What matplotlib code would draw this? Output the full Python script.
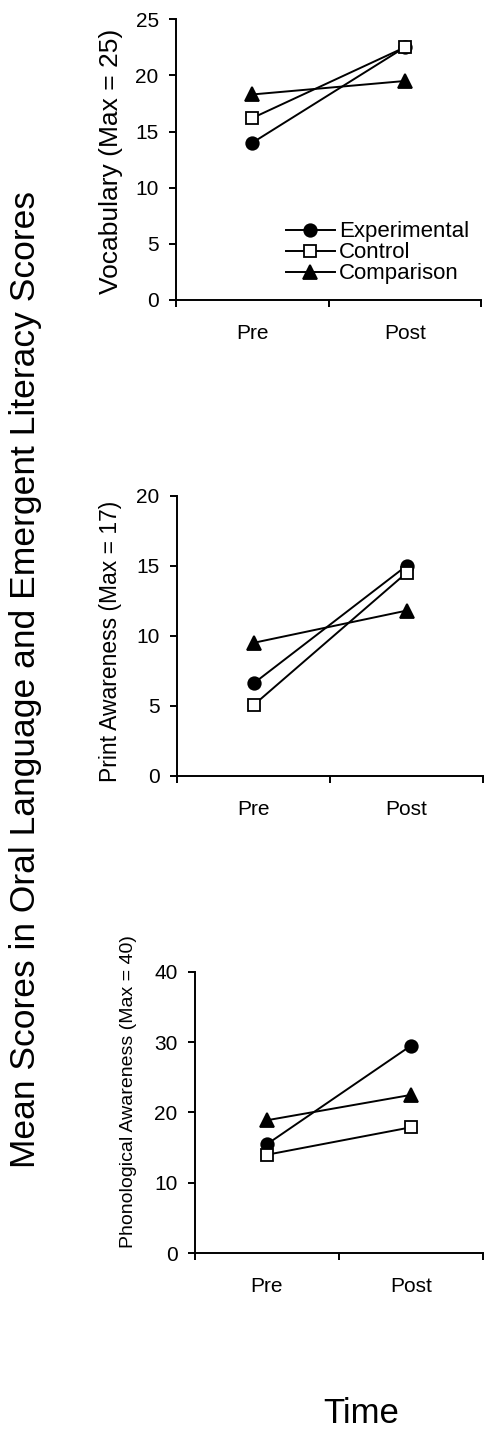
import matplotlib.pyplot as plt

plt.rcParams['font.family'] = ['Liberation Sans', 'DejaVu Sans']

times = ["Pre", "Post"]
groups = ["Experimental", "Control", "Comparison"]

vocab = {"Experimental": [14.0, 22.5], "Control": [16.2, 22.5], "Comparison": [18.3, 19.5]}
prnt = {"Experimental": [6.6, 15.0], "Control": [5.05, 14.5], "Comparison": [9.5, 11.8]}
phon = {"Experimental": [15.5, 29.5], "Control": [14.0, 17.9], "Comparison": [18.9, 22.5]}

styles = {
    "Experimental": dict(marker="o", mfc="black", ms=9),
    "Control": dict(marker="s", mfc="white", ms=8.5),
    "Comparison": dict(marker="^", mfc="black", ms=9.5),
}

# data, label, ymax, step, axes rect, label pos, label size
panels = [
    (vocab, "Vocabulary (Max = 25)", 25, 5, [0.363, 0.7908, 0.629, 0.1958], (0.229, 0.8877), 19),
    (prnt, "Print Awareness (Max = 17)", 20, 5, [0.365, 0.4589, 0.631, 0.1954], (0.227, 0.553), 16.5),
    (phon, "Phonological Awareness (Max = 40)", 40, 10, [0.402, 0.1260, 0.594, 0.1964], (0.264, 0.239), 14),
]

fig = plt.figure(figsize=(4.85, 14.34), dpi=100)
xs = [0.5, 1.5]
for i, (data, ylab, ymax, step, pos, lpos, lsize) in enumerate(panels):
    ax = fig.add_axes(pos)
    for g in groups:
        ln, = ax.plot(xs, data[g], color="black", lw=1.4, mec="black", mew=1.3,
                      label=g, **styles[g])
        ln.set_clip_on(False)
    ax.set_xlim(0, 2)
    ax.set_ylim(0, ymax)
    ax.set_yticks(range(0, ymax + 1, step))
    ax.set_xticks([0, 1, 2])
    ax.set_xticklabels([])
    ax.set_xticks(xs, minor=True)
    ax.set_xticklabels(times, minor=True)
    ax.tick_params(axis="x", which="minor", length=0, pad=17, labelsize=15)
    ax.tick_params(axis="x", which="major", length=5, width=1.4, direction="out")
    ax.tick_params(axis="y", length=5, width=1.4, labelsize=15, pad=7.5)
    for s in ["top", "right"]:
        ax.spines[s].set_visible(False)
    for s in ["left", "bottom"]:
        ax.spines[s].set_linewidth(1.4)
    fig.text(lpos[0], lpos[1], ylab, rotation=90, ha="center", va="center", fontsize=lsize)
    if i == 0:
        ax.legend(loc="upper left", bbox_to_anchor=(0.36, 0.28), frameon=False,
                  fontsize=16, handlelength=2.2, handletextpad=0.2,
                  labelspacing=0.0, borderaxespad=0, borderpad=0)

fig.text(0.052, 0.526, "Mean Scores in Oral Language and Emergent Literacy Scores",
         rotation=90, ha="center", va="center", fontsize=25.5)
fig.text(0.744, 0.0077, "Time", ha="center", va="baseline", fontsize=25)

fig.savefig("out.png", dpi=100)
